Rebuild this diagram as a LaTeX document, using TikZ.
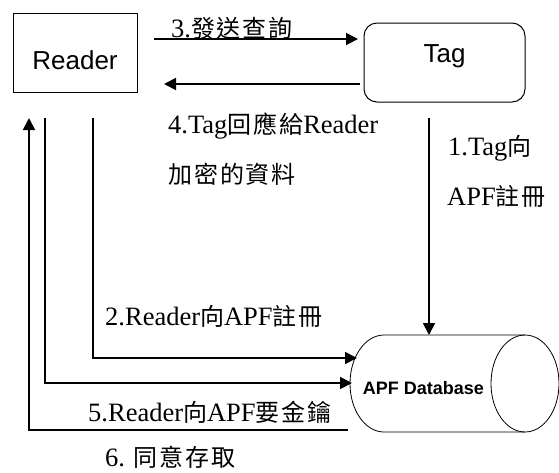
\documentclass[tikz,border=0pt]{standalone}
\usepackage{fontspec}
\setmainfont{Liberation Serif}
\newfontfamily\cjk[LetterSpace=8]{Noto Sans CJK TC}
\newfontfamily\sansfont{Liberation Sans}
\newcommand\zhtext[1]{{\cjk\fontsize{24}{24}\selectfont #1}}
\usetikzlibrary{arrows.meta}
\begin{document}
\begin{tikzpicture}[x=1pt,y=-1pt,
  flow/.style={line width=1.8pt,-{Triangle[length=12pt,width=12pt]}},
  lbl/.style={anchor=base west,inner sep=0pt,font=\fontsize{26.5}{26.5}\selectfont},
  boxfont/.style={font=\sansfont\fontsize{26}{26}\selectfont}]
\useasboundingbox (0,0) rectangle (559,472);

% participants
\node[draw,line width=1pt,boxfont,minimum width=124pt,minimum height=79pt,
      text height=40pt,text depth=6.4pt] (reader) at (75,52.5) {Reader};
\node[draw,line width=1pt,rounded corners=13pt,boxfont,minimum width=161pt,
      minimum height=79pt,text height=12pt,text depth=12pt] (tag) at (444.5,62.5) {Tag};

% database cylinder
\draw[line width=0.8pt] (525,335) -- (384,335)
  arc[start angle=-90,end angle=-270,x radius=34,y radius=48.5] -- (525,432);
\draw[line width=0.8pt] (525,383.5) ellipse [x radius=34,y radius=48.5];
\node[font=\sansfont\bfseries\fontsize{18}{18}\selectfont,inner sep=0pt] (db) at (423.5,388) {APF Database};

% connector end points
\coordinate (q1) at (154,39);
\coordinate (q2) at (358,39);
\coordinate (r1) at (360,84);
\coordinate (r2) at (164,84);
\coordinate (t1) at (429,118);
\coordinate (dbtop) at (429,335);
\coordinate (s2) at (93,118);
\coordinate (dbB) at (357,358);
\coordinate (s5) at (45,118);
\coordinate (dbC) at (352,383);
\coordinate (s6) at (29,118);
\coordinate (dbD) at (348,430);

% messages
\draw[flow] (q1) -- (q2);
\draw[flow] (r1) -- (r2);
\draw[flow] (t1) -- (dbtop);
\draw[flow] (s2) |- (dbB);
\draw[flow] (s5) |- (dbC);
\draw[flow] (dbD) -| (s6);

% labels
\node[lbl] (m3) at (171,37) {3.\zhtext{發送查詢}};
\node[lbl] (m4a) at (168,133) {4.Tag\zhtext{回應給}Reader};
\node[lbl] (m4b) at (168,183) {\zhtext{加密的資料}};
\node[lbl] (m1a) at (448,155) {1.Tag\zhtext{向}};
\node[lbl] (m1b) at (447,205) {APF\zhtext{註冊}};
\node[lbl] (m2) at (105,325) {2.Reader\zhtext{向}APF\zhtext{註冊}};
\node[lbl] (m5) at (88,421) {5.Reader\zhtext{向}APF\zhtext{要金鑰}};
\node[lbl] (m6) at (105,466) {6. \zhtext{同意存取}};
\end{tikzpicture}
\end{document}
